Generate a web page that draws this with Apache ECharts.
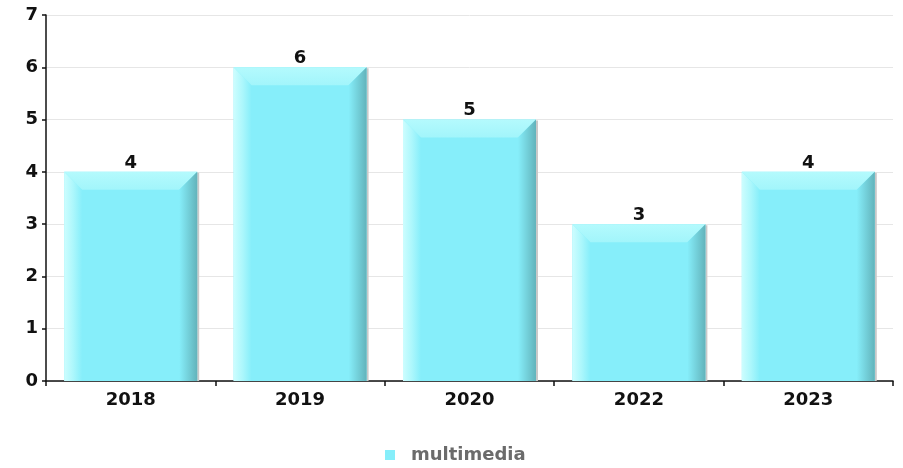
<!DOCTYPE html>
<html>
<head>
<meta charset="utf-8">
<script src="https://cdn.jsdelivr.net/npm/echarts@6/dist/echarts.min.js"></script>
<style>
  html, body { margin: 0; padding: 0; background: #fff; }
  #chart { width: 903px; height: 468px; }
</style>
</head>
<body>
<div id="chart"></div>
<script>
// Yearly counts for the "multimedia" series
const categories = ['2018', '2019', '2020', '2022', '2023'];
const values = [4, 6, 5, 3, 4];
const seriesName = 'multimedia';

const FONT = 'DejaVu Sans';
const FONT_SIZE = 18;
const BASE = '#86eefa';
const BEVEL = 18;

// Bevelled bar: flat face, lighter top and left edges, darker right edge
function renderItem(params, api) {
  const idx = api.value(0);
  const val = api.value(1);
  const top = api.coord([idx, val]);
  const base = api.coord([idx, 0]);
  const w = api.size([1, 0])[0] * 0.785;
  const x0 = top[0] - w / 2, x1 = top[0] + w / 2;
  const y0 = top[1], y1 = base[1];
  const b = Math.min(BEVEL, (y1 - y0) / 2);
  return {
    type: 'group',
    children: [
      { type: 'rect', shape: { x: x0 + 1, y: y0 + 1, width: w + 1, height: y1 - y0 - 1 },
        style: { fill: '#c9c9c9' } },
      { type: 'rect', shape: { x: x0, y: y0, width: w, height: y1 - y0 },
        style: { fill: BASE } },
      { type: 'polygon', shape: { points: [[x0, y0], [x0 + b, y0 + b], [x0 + b, y1], [x0, y1]] },
        style: { fill: new echarts.graphic.LinearGradient(0, 0, 1, 0, [
          { offset: 0, color: '#cdfdfe' }, { offset: 0.5, color: '#acf7fc' }, { offset: 1, color: BASE }]) } },
      { type: 'polygon', shape: { points: [[x0, y0], [x1, y0], [x1 - b, y0 + b], [x0 + b, y0 + b]] },
        style: { fill: new echarts.graphic.LinearGradient(0, 0, 0, 1, [
          { offset: 0, color: '#b4fafd' }, { offset: 1, color: '#a2f5fb' }]) } },
      { type: 'polygon', shape: { points: [[x1, y0], [x1, y1], [x1 - b, y1], [x1 - b, y0 + b]] },
        style: { fill: new echarts.graphic.LinearGradient(0, 0, 1, 0, [
          { offset: 0, color: BASE }, { offset: 1, color: '#62b3bb' }]) } },
      { type: 'text', style: { text: String(val), x: top[0], y: y0 - 9,
          align: 'center', verticalAlign: 'middle',
          font: 'bold ' + FONT_SIZE + 'px "' + FONT + '"', fill: '#111' } }
    ]
  };
}

const chart = echarts.init(document.getElementById('chart'));
chart.setOption({
  animation: false,
  backgroundColor: '#ffffff',
  grid: { left: 46, right: 10, top: 15, bottom: 87, containLabel: false },
  legend: {
    top: 441,
    left: 380,
    itemWidth: 10,
    itemHeight: 10,
    data: [{ name: seriesName, icon: 'rect' }],
    textStyle: { fontFamily: FONT, fontWeight: 'bold', fontSize: FONT_SIZE, color: '#6b6b6b',
      padding: [0, 0, 0, 11] }
  },
  xAxis: {
    type: 'category',
    data: categories,
    boundaryGap: true,
    axisLine: { lineStyle: { color: '#111', width: 1.5 } },
    axisTick: { show: true, length: 5, lineStyle: { color: '#111', width: 1.5 } },
    axisLabel: { fontFamily: FONT, fontWeight: 'bold', fontSize: FONT_SIZE, color: '#111', margin: 10 },
    splitLine: { show: false }
  },
  yAxis: {
    type: 'value',
    min: 0,
    max: 7,
    interval: 1,
    axisLine: { show: true, lineStyle: { color: '#111', width: 1.5 } },
    axisTick: { show: true, length: 4, lineStyle: { color: '#111', width: 1.5 } },
    axisLabel: { fontFamily: FONT, fontWeight: 'bold', fontSize: FONT_SIZE, color: '#111', margin: 8 },
    splitLine: { show: true, lineStyle: { color: '#e6e6e6', width: 1 } }
  },
  series: [{
    name: seriesName,
    type: 'custom',
    renderItem: renderItem,
    itemStyle: { color: BASE },
    encode: { x: 0, y: 1 },
    data: values.map((v, i) => [i, v])
  }]
});
</script>
</body>
</html>
